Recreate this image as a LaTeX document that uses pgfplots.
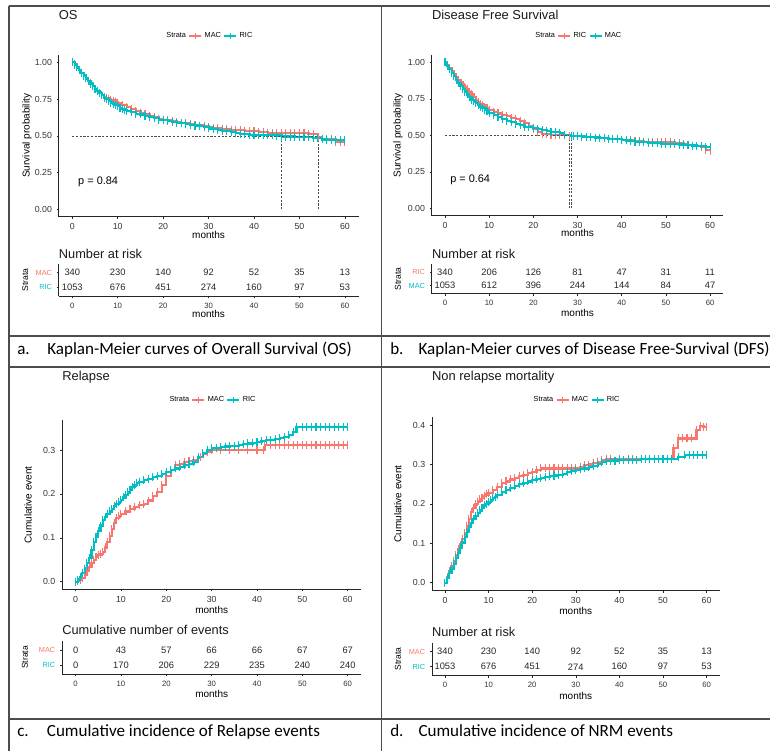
\documentclass[border=0pt]{standalone}
\usepackage{fontspec}
\setmainfont{Liberation Sans}
\newfontfamily\calib{Carlito}
\usepackage{pgfplots}
\pgfplotsset{compat=1.18}
\definecolor{rd}{HTML}{F8766D}
\definecolor{cy}{HTML}{00BFC4}
\pgfplotsset{
 base/.style={scale only axis, axis lines*=left, tick align=outside, major tick length=1.5pt,
  axis line style={black!85, line width=0.5pt}, every tick/.style={black!85, line width=0.4pt},
  xmin=-3, xmax=63, xtick={0,10,...,60}, enlargelimits=false,
  /pgf/number format/assume math mode=true,
  xlabel=months,
  title style={at={(0,1)}, anchor=west, inner sep=0pt, text=black!90},
 },
 km/.style={base,
  ticklabel style={font=\fontsize{6.6}{7}\selectfont, text=black!80},
  label style={font=\fontsize{7.5}{8}\selectfont},
  title style={font=\fontsize{9.7}{11}\selectfont},
  legend columns=-1,
  legend style={draw=none, fill=none, at={(0.5,1)}, anchor=center,
    font=\fontsize{5.5}{6}\selectfont, /tikz/column sep=1.2pt, nodes={inner sep=0.6pt}},
 },
 tbl/.style={base, ymin=0.4, ymax=2.6, ytick={1,2},
  xticklabel style={font=\fontsize{5.8}{6}\selectfont, text=black!80},
  yticklabel style={font=\fontsize{5.5}{6}\selectfont},
  xlabel style={font=\fontsize{7.5}{8}\selectfont},
  ylabel style={font=\fontsize{6.4}{7}\selectfont},
  ylabel=Strata,
  title style={font=\fontsize{9.6}{11}\selectfont},
 },
 rdc/.style={color=rd, line width=1.6pt, const plot, mark=|, mark size=3pt, mark options={line width=0.8pt},
  legend image code/.code={\draw[rd, line width=1.4pt] (0pt,0pt) -- (9pt,0pt); \draw[rd, line width=0.8pt] (4.5pt,-2.4pt) -- (4.5pt,2.4pt);}},
 cyc/.style={color=cy, line width=1.6pt, const plot, mark=|, mark size=3pt, mark options={line width=0.8pt},
  legend image code/.code={\draw[cy, line width=1.4pt] (0pt,0pt) -- (9pt,0pt); \draw[cy, line width=0.8pt] (4.5pt,-2.4pt) -- (4.5pt,2.4pt);}},
 med/.style={black!70, line width=0.4pt, dash pattern=on 1.6pt off 1.2pt, mark=none},
 nums/.style={draw=none, mark=none, nodes near coords, point meta=explicit symbolic,
  nodes near coords style={anchor=center, font=\fontsize{7}{8}\selectfont, text=black!85}},
}
\begin{document}
\begin{tikzpicture}
\useasboundingbox (0,0) rectangle (577.5pt,-563.25pt);
% frame
\draw[black!70, line width=1pt] (6.75pt,-4.5pt) -- (577.5pt,-4.5pt);
\draw[black!70, line width=1pt] (6.75pt,-4.5pt) -- (6.75pt,-563.25pt);
\draw[black!70, line width=1pt] (286.3pt,-4.5pt) -- (286.3pt,-563.25pt);
\draw[black!70, line width=1pt] (6.75pt,-252pt) -- (577.5pt,-252pt);
\draw[black!70, line width=1pt] (6.75pt,-275.25pt) -- (577.5pt,-275.25pt);
\draw[black!70, line width=1pt] (6.75pt,-539.25pt) -- (577.5pt,-539.25pt);
% captions
\begin{scope}[every node/.style={anchor=base west, inner sep=0pt, font=\calib\fontsize{12.8}{14}\selectfont}]
\node at (12.75pt,-265.5pt) {a.};
\node at (35.25pt,-265.5pt) {Kaplan-Meier curves of Overall Survival (OS)};
\node at (292.5pt,-265.5pt) {b.};
\node at (313.7pt,-265.5pt) {Kaplan-Meier curves of Disease Free-Survival (DFS)};
\node at (12.75pt,-552.5pt) {c.};
\node at (35pt,-552.5pt) {Cumulative incidence of Relapse events};
\node at (292.5pt,-552.5pt) {d.};
\node at (313.7pt,-552.5pt) {Cumulative incidence of NRM events};
\end{scope}

% ---------- Panel a: OS ----------
\begin{axis}[km, at={(44.0pt,-162.5pt)}, anchor=south west, width=224.9pt, height=121.3pt,
  ymin=-0.05, ymax=1.05, ytick={0,0.25,0.5,0.75,1},
  yticklabel style={/pgf/number format/fixed, /pgf/number format/fixed zerofill, /pgf/number format/precision=2},
  title={OS}, title style={yshift=24pt},
  ylabel={Survival probability}, ylabel style={at={(axis description cs:-0.1057,0.5)}, anchor=center},
  xlabel style={at={(axis description cs:0.5,0)}, anchor=center, yshift=-13.7pt},
  legend style={yshift=14.25pt}]
\addlegendimage{empty legend}\addlegendentry{Strata}
\addplot[rdc] coordinates {(0,1.00) (0.5,0.985) (1,0.97) (1.5,0.95) (2,0.93) (2.5,0.91) (3,0.89) (3.5,0.875) (4,0.86) (4.5,0.84) (5,0.82) (5.5,0.805) (6,0.79) (6.5,0.777) (7,0.765) (7.5,0.757) (8,0.75) (8.5,0.745) (9,0.74) (9.5,0.732) (10,0.725) (11,0.71) (12,0.695) (13,0.68) (14,0.668) (15,0.657) (16,0.647) (17,0.637) (18,0.627) (19,0.617) (20,0.61) (21,0.605) (22,0.60) (23,0.595) (24,0.59) (25,0.585) (26,0.58) (27,0.575) (28,0.57) (29,0.565) (30,0.56) (31,0.555) (32,0.55) (33,0.547) (34,0.545) (35,0.542) (36,0.54) (37,0.537) (38,0.535) (39,0.532) (40,0.53) (41,0.527) (42,0.525) (43,0.522) (44,0.52) (45,0.52) (46,0.52) (47,0.52) (48,0.52) (49,0.52) (50,0.52) (51,0.517) (52,0.515) (53,0.51) (54.1,0.49) (55,0.48) (56,0.48) (57,0.48) (58,0.46) (59,0.46) (60,0.46)};
\addlegendentry{MAC}
\addplot[cyc] coordinates {(0,1.00) (0.5,0.983) (1,0.965) (1.5,0.948) (2,0.93) (2.5,0.91) (3,0.89) (3.5,0.872) (4,0.855) (4.5,0.838) (5,0.82) (5.5,0.805) (6,0.79) (6.5,0.775) (7,0.76) (7.5,0.748) (8,0.735) (8.5,0.725) (9,0.715) (9.5,0.707) (10,0.70) (10.5,0.692) (11,0.685) (11.5,0.677) (12,0.67) (13,0.66) (14,0.65) (15,0.645) (16,0.635) (17,0.625) (18,0.62) (19,0.61) (20,0.605) (21,0.60) (22,0.595) (23,0.59) (24,0.585) (25,0.58) (26,0.575) (27,0.57) (28,0.565) (29,0.557) (30,0.55) (31,0.545) (32,0.54) (33,0.535) (34,0.53) (35,0.525) (36,0.52) (37,0.515) (38,0.51) (39,0.507) (40,0.505) (41,0.505) (42,0.505) (43,0.504) (44,0.503) (45,0.502) (46.1,0.495) (47,0.495) (48,0.495) (49,0.493) (50,0.49) (51,0.49) (52,0.49) (53,0.488) (54,0.485) (55,0.475) (56,0.473) (57,0.47) (58,0.47) (59,0.47) (60,0.47)};
\addlegendentry{RIC}
\addplot[med, forget plot] coordinates {(0,0.5) (54.1,0.5)};
\addplot[med, forget plot] coordinates {(46.1,0) (46.1,0.5)};
\addplot[med, forget plot] coordinates {(54.1,0) (54.1,0.5)};
\node[anchor=west, inner sep=0pt, font=\fontsize{8.2}{9}\selectfont] at (axis cs:1.25,0.186) {p = 0.84};
\end{axis}

\begin{axis}[tbl, at={(44.0pt,-222.2pt)}, anchor=south west, width=224.9pt, height=24.3pt,
  yticklabels={\textcolor{cy}{RIC},\textcolor{rd}{MAC}},
  title={Number at risk}, title style={yshift=1.4pt},
  ylabel style={at={(axis description cs:-0.112,0.5)}, anchor=center},
  xlabel style={at={(axis description cs:0.5,0)}, anchor=center, yshift=-13.3pt}]
\addplot[nums] table[meta=t, row sep=\\] {x y t\\ 0 2 340\\ 10 2 230\\ 20 2 140\\ 30 2 92\\ 40 2 52\\ 50 2 35\\ 60 2 13\\ 0 1 1053\\ 10 1 676\\ 20 1 451\\ 30 1 274\\ 40 1 160\\ 50 1 97\\ 60 1 53\\};
\end{axis}

% ---------- Panel b: DFS ----------
\begin{axis}[km, at={(323.8pt,-161.7pt)}, anchor=south west, width=218.7pt, height=120.4pt,
  ymin=-0.05, ymax=1.05, ytick={0,0.25,0.5,0.75,1},
  yticklabel style={/pgf/number format/fixed, /pgf/number format/fixed zerofill, /pgf/number format/precision=2},
  title={Disease Free Survival}, title style={yshift=24pt},
  ylabel={Survival probability}, ylabel style={at={(axis description cs:-0.1158,0.5)}, anchor=center},
  xlabel style={at={(axis description cs:0.5,0)}, anchor=center, yshift=-13.05pt},
  legend style={yshift=14.25pt}]
\addlegendimage{empty legend}\addlegendentry{Strata}
\addplot[rdc] coordinates {(0,1.00) (0.5,0.98) (1,0.96) (1.5,0.94) (2,0.92) (2.5,0.9) (3,0.88) (3.5,0.862) (4,0.845) (4.5,0.83) (5,0.815) (5.5,0.797) (6,0.78) (6.5,0.762) (7,0.745) (7.5,0.73) (8,0.715) (8.5,0.705) (9,0.695) (9.5,0.685) (10,0.675) (11,0.66) (12,0.65) (13,0.64) (14,0.63) (15,0.62) (16,0.61) (17,0.60) (18,0.585) (19,0.565) (20,0.545) (21,0.525) (22,0.51) (23,0.507) (24,0.505) (25,0.505) (26,0.505) (27,0.503) (28.2,0.495) (29,0.495) (30,0.495) (31,0.492) (32,0.49) (33,0.487) (34,0.485) (35,0.482) (36,0.48) (37,0.477) (38,0.475) (39,0.472) (40,0.47) (41,0.467) (42,0.465) (43,0.462) (44,0.46) (45,0.457) (46,0.455) (47,0.455) (48,0.455) (49,0.455) (50,0.455) (51,0.452) (52,0.45) (53,0.445) (54,0.44) (55,0.435) (56,0.43) (57,0.425) (58,0.42) (59,0.40) (60,0.39)};
\addlegendentry{RIC}
\addplot[cyc] coordinates {(0,1.00) (0.5,0.978) (1,0.955) (1.5,0.93) (2,0.905) (2.5,0.882) (3,0.86) (3.5,0.84) (4,0.82) (4.5,0.8) (5,0.78) (5.5,0.762) (6,0.745) (6.5,0.732) (7,0.72) (7.5,0.707) (8,0.695) (8.5,0.685) (9,0.675) (9.5,0.665) (10,0.655) (11,0.64) (12,0.625) (13,0.61) (14,0.60) (15,0.59) (16,0.58) (17,0.57) (18,0.56) (19,0.555) (20,0.55) (21,0.542) (22,0.535) (23,0.53) (24,0.525) (25,0.52) (26,0.515) (27,0.505) (28.6,0.495) (29,0.495) (30,0.495) (31,0.492) (32,0.49) (33,0.487) (34,0.485) (35,0.482) (36,0.48) (37,0.477) (38,0.475) (39,0.472) (40,0.47) (41,0.465) (42,0.46) (43,0.457) (44,0.455) (45,0.452) (46,0.45) (47,0.447) (48,0.445) (49,0.442) (50,0.44) (51,0.44) (52,0.44) (53,0.437) (54,0.435) (55,0.432) (56,0.43) (57,0.427) (58,0.425) (59,0.422) (60,0.42)};
\addlegendentry{MAC}
\addplot[med, forget plot] coordinates {(0,0.5) (28.6,0.5)};
\addplot[med, forget plot] coordinates {(28.2,0) (28.2,0.5)};
\addplot[med, forget plot] coordinates {(28.6,0) (28.6,0.5)};
\node[anchor=west, inner sep=0pt, font=\fontsize{8.2}{9}\selectfont] at (axis cs:1.13,0.194) {p = 0.64};
\end{axis}

\begin{axis}[tbl, at={(323.8pt,-220.3pt)}, anchor=south west, width=218.7pt, height=22.05pt,
  yticklabels={\textcolor{cy}{MAC},\textcolor{rd}{RIC}},
  title={Number at risk}, title style={yshift=1.7pt},
  ylabel style={at={(axis description cs:-0.116,0.5)}, anchor=center},
  xlabel style={at={(axis description cs:0.5,0)}, anchor=center, yshift=-14.7pt}]
\addplot[nums] table[meta=t, row sep=\\] {x y t\\ 0 2 340\\ 10 2 206\\ 20 2 126\\ 30 2 81\\ 40 2 47\\ 50 2 31\\ 60 2 11\\ 0 1 1053\\ 10 1 612\\ 20 1 396\\ 30 1 244\\ 40 1 144\\ 50 1 84\\ 60 1 47\\};
\end{axis}

% ---------- Panel c: Relapse ----------
\begin{axis}[km, at={(46.5pt,-442.05pt)}, anchor=south west, width=224.5pt, height=126.75pt,
  ymin=-0.0175, ymax=0.3675, ytick={0,0.1,0.2,0.3},
  yticklabel style={/pgf/number format/fixed, /pgf/number format/fixed zerofill, /pgf/number format/precision=1},
  title={Relapse}, title style={yshift=26.5pt},
  ylabel={Cumulative event}, ylabel style={at={(axis description cs:-0.1136,0.5)}, anchor=center},
  xlabel style={at={(axis description cs:0.5,0)}, anchor=center, yshift=-15.45pt},
  legend style={yshift=15.3pt}]
\addlegendimage{empty legend}\addlegendentry{Strata}
\addplot[rdc] coordinates {(0,0) (0.5,0.002) (1,0.004) (1.5,0.009) (2,0.015) (2.5,0.025) (3,0.034) (3.5,0.042) (4,0.05) (4.5,0.056) (5,0.06) (5.5,0.064) (6,0.068) (6.5,0.078) (7,0.09) (7.5,0.105) (8,0.12) (8.5,0.133) (9,0.145) (9.5,0.15) (10,0.155) (11,0.16) (12,0.165) (13,0.17) (14,0.175) (15,0.178) (16,0.185) (17,0.195) (18,0.205) (19,0.22) (20,0.24) (21,0.255) (22,0.265) (23,0.269) (24,0.272) (25,0.275) (26,0.278) (27,0.282) (27.5,0.285) (28,0.29) (29,0.296) (30,0.30) (32,0.30) (34,0.30) (36,0.30) (38,0.30) (40,0.30) (41.5,0.30) (41.7,0.312) (43,0.312) (44,0.312) (45,0.312) (46,0.312) (47,0.312) (48,0.312) (49,0.312) (50,0.312) (51,0.312) (52,0.312) (53,0.312) (54,0.312) (55,0.312) (56,0.312) (57,0.312) (58,0.312) (59,0.312) (60,0.312)};
\addlegendentry{MAC}
\addplot[cyc] coordinates {(0,0) (0.5,0.005) (1,0.01) (1.5,0.02) (2,0.03) (2.5,0.042) (3,0.055) (3.5,0.072) (4,0.09) (4.5,0.103) (5,0.115) (5.5,0.128) (6,0.14) (6.5,0.148) (7,0.155) (7.5,0.16) (8,0.165) (8.5,0.172) (9,0.178) (9.5,0.182) (10,0.186) (10.5,0.192) (11,0.198) (11.5,0.204) (12,0.21) (12.5,0.215) (13,0.22) (13.5,0.224) (14,0.228) (15,0.232) (16,0.235) (17,0.238) (18,0.24) (19,0.245) (20,0.25) (21,0.254) (22,0.258) (23,0.261) (24,0.265) (25,0.269) (26,0.273) (27,0.285) (28,0.293) (29,0.30) (30,0.304) (31,0.305) (32,0.307) (33,0.308) (34,0.309) (35,0.31) (36,0.312) (37,0.313) (38,0.315) (39,0.317) (40,0.318) (41,0.32) (42,0.322) (43,0.323) (44,0.325) (45,0.327) (46,0.33) (47,0.335) (48,0.342) (48.7,0.353) (50,0.353) (51,0.353) (52,0.353) (53,0.353) (54,0.353) (55,0.353) (56,0.353) (57,0.353) (58,0.353) (59,0.353) (60,0.353)};
\addlegendentry{RIC}
\end{axis}

\begin{axis}[tbl, at={(46.5pt,-505.5pt)}, anchor=south west, width=224.5pt, height=24.75pt,
  yticklabels={\textcolor{cy}{RIC},\textcolor{rd}{MAC}},
  title={Cumulative number of events}, title style={yshift=2.25pt},
  ylabel style={at={(axis description cs:-0.124,0.5)}, anchor=center},
  xlabel style={at={(axis description cs:0.5,0)}, anchor=center, yshift=-15.2pt}]
\addplot[nums] table[meta=t, row sep=\\] {x y t\\ 0 2 0\\ 10 2 43\\ 20 2 57\\ 30 2 66\\ 40 2 66\\ 50 2 67\\ 60 2 67\\ 0 1 0\\ 10 1 170\\ 20 1 206\\ 30 1 229\\ 40 1 235\\ 50 1 240\\ 60 1 240\\};
\end{axis}

% ---------- Panel d: NRM ----------
\begin{axis}[km, at={(323.9pt,-442.95pt)}, anchor=south west, width=215.85pt, height=130.05pt,
  ymin=-0.02, ymax=0.42, ytick={0,0.1,0.2,0.3,0.4},
  yticklabel style={/pgf/number format/fixed, /pgf/number format/fixed zerofill, /pgf/number format/precision=1},
  title={Non relapse mortality}, title style={yshift=24.2pt},
  ylabel={Cumulative event}, ylabel style={at={(axis description cs:-0.118,0.5)}, anchor=center},
  xlabel style={at={(axis description cs:0.5,0)}, anchor=center, yshift=-15.1pt},
  legend style={yshift=12.9pt}]
\addlegendimage{empty legend}\addlegendentry{Strata}
\addplot[rdc] coordinates {(0,0) (0.5,0.015) (1,0.03) (1.5,0.042) (2,0.055) (2.5,0.07) (3,0.085) (3.5,0.097) (4,0.11) (4.5,0.127) (5,0.145) (5.5,0.162) (6,0.18) (6.5,0.19) (7,0.20) (7.5,0.206) (8,0.212) (8.5,0.216) (9,0.22) (9.5,0.224) (10,0.228) (11,0.235) (12,0.243) (13,0.252) (14,0.257) (15,0.262) (16,0.266) (17,0.27) (18,0.274) (19,0.279) (20,0.282) (21,0.286) (22,0.29) (23,0.29) (24,0.29) (25,0.29) (26,0.29) (27,0.29) (28,0.29) (29,0.29) (30,0.29) (31,0.294) (32,0.298) (33,0.3) (34,0.303) (35,0.307) (36,0.311) (37,0.315) (38,0.315) (40,0.315) (42,0.315) (43,0.315) (46,0.315) (50,0.315) (52.4,0.341) (53.5,0.366) (54.5,0.366) (55.5,0.366) (56.5,0.366) (57.7,0.387) (58.5,0.397) (59.3,0.395) (60,0.395)};
\addlegendentry{MAC}
\addplot[cyc] coordinates {(0,0) (0.5,0.012) (1,0.024) (1.5,0.036) (2,0.048) (2.5,0.062) (3,0.075) (3.5,0.088) (4,0.102) (4.5,0.116) (5,0.13) (5.5,0.141) (6,0.152) (6.5,0.161) (7,0.17) (7.5,0.178) (8,0.185) (8.5,0.19) (9,0.196) (9.5,0.2) (10,0.205) (10.5,0.21) (11,0.215) (11.5,0.218) (12,0.222) (13,0.23) (14,0.236) (15,0.24) (16,0.245) (17,0.25) (18,0.254) (19,0.257) (20,0.26) (21,0.263) (22,0.266) (23,0.268) (24,0.27) (25,0.272) (26,0.273) (27,0.277) (28,0.28) (29,0.283) (30,0.286) (31,0.288) (32,0.29) (33,0.293) (34,0.297) (35,0.302) (36,0.307) (37,0.308) (38,0.31) (39,0.31) (40,0.311) (41,0.311) (42,0.312) (43,0.312) (44,0.312) (45,0.313) (46,0.314) (47,0.315) (48,0.315) (49,0.315) (50,0.315) (51,0.315) (52,0.315) (53.5,0.318) (55,0.324) (56,0.324) (57,0.324) (58,0.324) (59,0.324) (60,0.324)};
\addlegendentry{RIC}
\end{axis}

\begin{axis}[tbl, at={(323.9pt,-506.8pt)}, anchor=south west, width=215.85pt, height=24.75pt,
  yticklabels={\textcolor{cy}{RIC},\textcolor{rd}{MAC}},
  title={Number at risk}, title style={yshift=2.25pt},
  ylabel style={at={(axis description cs:-0.118,0.5)}, anchor=center},
  xlabel style={at={(axis description cs:0.5,0)}, anchor=center, yshift=-15.2pt}]
\addplot[nums] table[meta=t, row sep=\\] {x y t\\ 0 2 340\\ 10 2 230\\ 20 2 140\\ 30 2 92\\ 40 2 52\\ 50 2 35\\ 60 2 13\\ 0 1 1053\\ 10 1 676\\ 20 1 451\\ 30 1 274\\ 40 1 160\\ 50 1 97\\ 60 1 53\\};
\end{axis}
\end{tikzpicture}
\end{document}
